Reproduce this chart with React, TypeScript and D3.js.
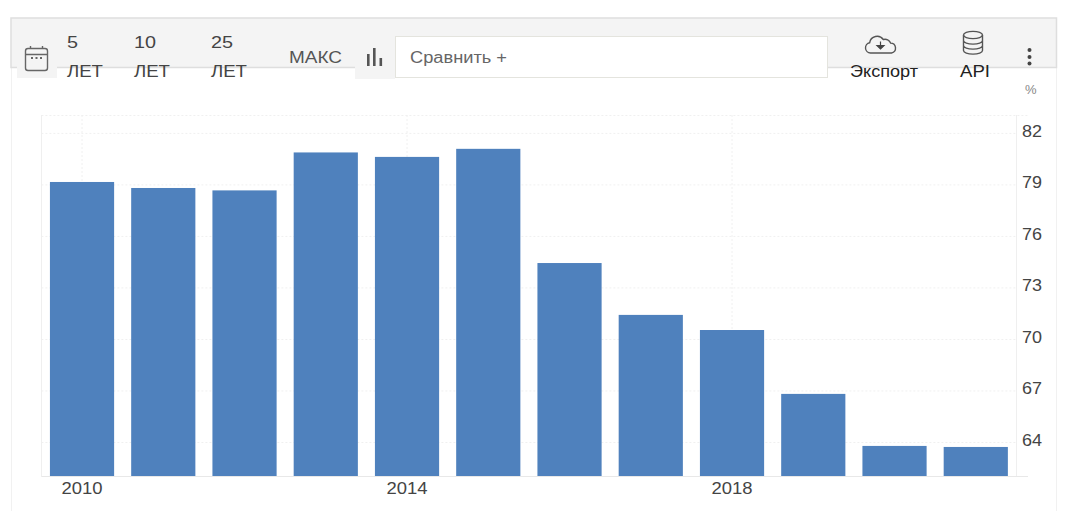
import React, { useMemo } from "react";
import * as d3 from "d3";

const years = [2010, 2011, 2012, 2013, 2014, 2015, 2016, 2017, 2018, 2019, 2020, 2021];
const rates = [79.17, 78.82, 78.68, 80.89, 80.63, 81.1, 74.45, 71.43, 70.55, 66.83, 63.8, 63.74];
const yTicks = [64, 67, 70, 73, 76, 79, 82];
const xTickYears = [2010, 2014, 2018];
const rangeButtons = [
  { top: "5", topWidth: 11, bottom: "ЛЕТ", x: 67 },
  { top: "10", topWidth: 22, bottom: "ЛЕТ", x: 134 },
  { top: "25", topWidth: 22, bottom: "ЛЕТ", x: 211 },
];

const W = 1077;
const H = 511;
const plot = { left: 41.4, right: 1016.4, top: 115, bottom: 476.5 };
const FONT = "'Liberation Sans', Arial, sans-serif";
const BAR = "#4f81bd";
const TEXT = "#444";

// Text fitted to a given run length, so wide labels keep their glyph height.
function Wide({ w, children, ...rest }: any) {
  return (
    <text textLength={w} lengthAdjust="spacingAndGlyphs" {...rest}>
      {children}
    </text>
  );
}

export default function App() {
  const x = useMemo(
    () => d3.scaleBand<number>().domain(years).range([plot.left, plot.right]).paddingInner(0.21).paddingOuter(0.105),
    []
  );
  const y = useMemo(() => d3.scaleLinear().domain([62.02, 83.07]).range([plot.bottom, plot.top]), []);

  return (
    <svg width={W} height={H} style={{ position: "absolute", left: 0, top: 0, background: "#fff" }} fontFamily={FONT}>
      {/* Card outline and toolbar */}
      <path d={`M11.5 ${H}V67M1056.5 67V${H}`} fill="none" stroke="#f1f1f1" />
      <rect x={11} y={18} width={1045.5} height={49.5} fill="#f4f4f4" stroke="#dedede" strokeWidth={1.5} />
      <rect x={17} y={60} width={40} height={18} fill="#f4f4f4" />
      <rect x={355} y={60} width={40} height={19} fill="#f4f4f4" />

      {/* Calendar icon */}
      <g fill="none" stroke="#666" strokeWidth={1.4}>
        <rect x={25.5} y={48.5} width={22} height={22} rx={2.5} />
        <path d="M25.5 54.5H47.5M30.5 46V49M42.5 46V49" />
      </g>
      <g fill="#666">
        {[31, 35.5, 40].map((cx) => (
          <rect key={cx} x={cx} y={57} width={2} height={2} />
        ))}
      </g>

      {/* Range selector */}
      <g fontSize={16} fill={TEXT}>
        {rangeButtons.map((b) => (
          <g key={b.x}>
            <Wide x={b.x} y={48} w={b.topWidth}>{b.top}</Wide>
            <Wide x={b.x} y={77} w={36}>{b.bottom}</Wide>
          </g>
        ))}
        <Wide x={289} y={63} w={53} fill="#555">МАКС</Wide>
      </g>

      {/* Chart-type icon */}
      <g fill="#555">
        <rect x={367} y={54} width={2.6} height={12} />
        <rect x={373} y={48} width={2.6} height={18} />
        <rect x={379.5} y={58} width={2.6} height={8} />
      </g>

      {/* Compare field */}
      <rect x={395.5} y={36.5} width={432} height={41} fill="#fff" stroke="#e4e4de" />
      <Wide x={410} y={63} w={97} fontSize={16} fill="#666">Сравнить +</Wide>

      {/* Export and API actions */}
      <path
        d="M874 53h-3.5a5.2 5.2 0 0 1-.8-10.3 7.5 7.5 0 0 1 13.6-3.2 5.8 5.8 0 0 1 7.3 3.6 5 5 0 0 1 .9 9.9z"
        fill="none"
        stroke="#555"
        strokeWidth={1.4}
      />
      <path d="M880.5 41.5v4.5M877 45.5h7l-3.5 3.5z" fill="#444" stroke="#444" strokeWidth={1.2} />
      <Wide x={850} y={77} w={68} fontSize={16} fill="#222">Экспорт</Wide>
      <g fill="none" stroke="#555" strokeWidth={1.4}>
        <ellipse cx={973} cy={35} rx={9.5} ry={3.6} />
        <path d="M963.5 35V50.5c0 2 4.2 3.6 9.5 3.6s9.5-1.6 9.5-3.6V35M963.5 40.5c0 2 4.2 3.6 9.5 3.6s9.5-1.6 9.5-3.6M963.5 45.5c0 2 4.2 3.6 9.5 3.6s9.5-1.6 9.5-3.6" />
      </g>
      <Wide x={960} y={77} w={30} fontSize={16} fill="#222">API</Wide>
      <g fill="#444">
        {[50, 57, 63.5].map((cy) => (
          <circle key={cy} cx={1029.5} cy={cy} r={2} />
        ))}
      </g>

      {/* Grid and frame */}
      <g stroke="#f0f0f0" strokeDasharray="2 2" fill="none">
        <path d={`M${plot.left} ${plot.top + 0.5}H1028`} />
        {yTicks.map((t) => (
          <line key={t} x1={plot.left} x2={plot.right} y1={y(t)} y2={y(t)} />
        ))}
        {xTickYears.map((yr) => {
          const cx = x(yr)! + x.bandwidth() / 2;
          return <line key={yr} x1={cx} x2={cx} y1={plot.top} y2={plot.bottom} />;
        })}
      </g>
      <path d={`M41.5 ${plot.top}V${plot.bottom}M1016.5 ${plot.top}V${plot.bottom}`} stroke="#efefef" fill="none" />

      {/* Bars */}
      <g fill={BAR}>
        {years.map((yr, i) => (
          <rect key={yr} x={x(yr)} y={y(rates[i])} width={x.bandwidth()} height={plot.bottom - y(rates[i])} />
        ))}
      </g>
      <line x1={plot.left} x2={1028} y1={plot.bottom} y2={plot.bottom} stroke="#e8e8e8" />

      {/* Axis labels */}
      <g fontSize={16} fill={TEXT} textAnchor="middle">
        {xTickYears.map((yr) => (
          <Wide key={yr} x={x(yr)! + x.bandwidth() / 2} y={494} w={41}>{yr}</Wide>
        ))}
      </g>
      <g fontSize={17} fill={TEXT}>
        {yTicks.map((t) => (
          <Wide key={t} x={1022} y={y(t) + 3.5} w={20}>{t}</Wide>
        ))}
      </g>
      <text x={1025} y={94} fontSize={13} fill="#888">%</text>
    </svg>
  );
}
